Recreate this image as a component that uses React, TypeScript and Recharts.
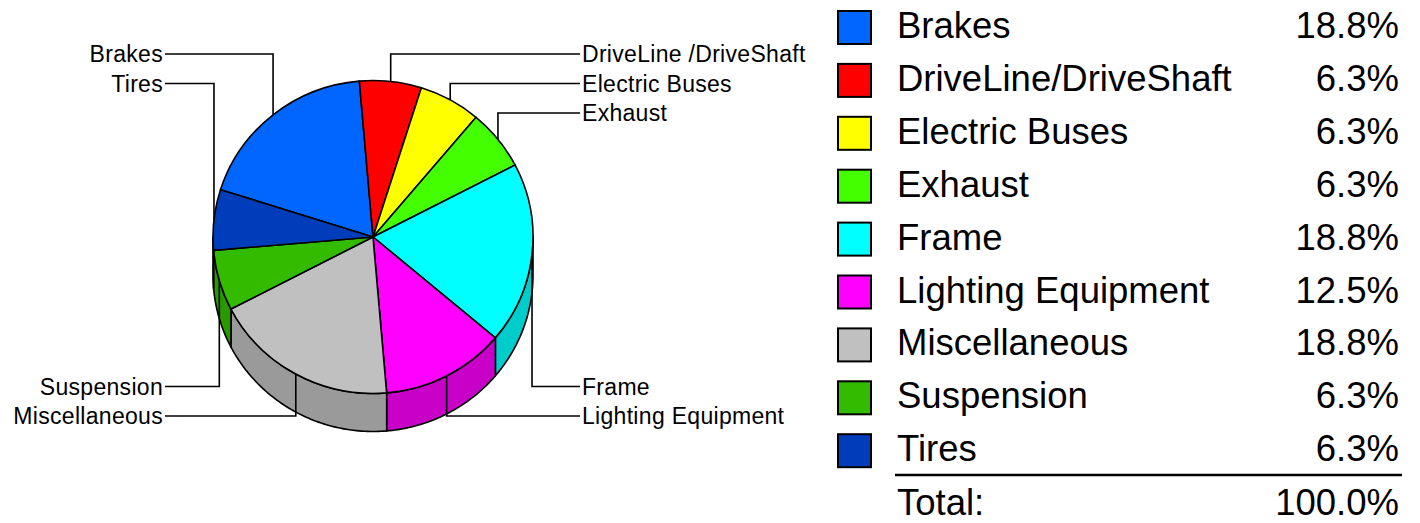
import { PieChart, Pie, Legend } from "recharts";

const categories = [
  "Brakes",
  "DriveLine/DriveShaft",
  "Electric Buses",
  "Exhaust",
  "Frame",
  "Lighting Equipment",
  "Miscellaneous",
  "Suspension",
  "Tires",
];
const calloutNames = [
  "Brakes",
  "DriveLine /DriveShaft",
  "Electric Buses",
  "Exhaust",
  "Frame",
  "Lighting Equipment",
  "Miscellaneous",
  "Suspension",
  "Tires",
];
const counts = [3, 1, 1, 1, 3, 2, 3, 1, 1];
const topColors = [
  "#0066FF",
  "#FF0000",
  "#FFFF00",
  "#44FF00",
  "#00FFFF",
  "#FF00FF",
  "#C0C0C0",
  "#33BB00",
  "#003DBB",
];
const sideColors = [
  "#0052CC",
  "#CC0000",
  "#CCCC00",
  "#36CC00",
  "#00CCCC",
  "#C800C8",
  "#9A9A9A",
  "#299900",
  "#003199",
];

const FONT = "'Liberation Sans', Arial, sans-serif";
const CX = 373;
const CY = 237;
const R = 160;
const SQUASH = 0.978;
const DEPTH = 38;
const START = 162.4;
const RAD = Math.PI / 180;

const total = counts.reduce((a, b) => a + b, 0);
const data = categories.map((name, i) => ({
  name,
  value: counts[i],
  fill: topColors[i],
  side: sideColors[i],
}));

// which callout row each slice goes to (stacked at top / bottom on each side)
const mids: number[] = [];
{
  let acc = START;
  counts.forEach((c) => {
    const span = (c / total) * 360;
    mids.push(acc - span / 2);
    acc -= span;
  });
}
const rowOf: number[] = mids.map((m, i) => {
  const left = Math.cos(m * RAD) < 0;
  const top = Math.sin(m * RAD) > 0;
  const y = -Math.sin(m * RAD);
  let rank = 0;
  mids.forEach((o, j) => {
    if (j === i) return;
    if ((Math.cos(o * RAD) < 0) !== left || (Math.sin(o * RAD) > 0) !== top) return;
    const oy = -Math.sin(o * RAD);
    if (top ? oy < y : oy > y) rank++;
  });
  return rank;
});

function Slice3D(props: any) {
  const { cx, cy, outerRadius, startAngle, endAngle, index } = props;
  const rx = outerRadius;
  const ry = outerRadius * SQUASH;
  const pt = (a: number, dy = 0) =>
    `${cx + rx * Math.cos(a * RAD)},${cy - ry * Math.sin(a * RAD) + dy}`;
  const lo = Math.min(startAngle, endAngle);
  const hi = Math.max(startAngle, endAngle);

  const walls: string[] = [];
  for (let k = -2; k <= 1; k++) {
    const a = Math.max(lo, 180 + 360 * k);
    const b = Math.min(hi, 360 + 360 * k);
    if (b - a <= 0.01) continue;
    const n = Math.max(2, Math.ceil(b - a));
    const topPts: string[] = [];
    const botPts: string[] = [];
    for (let s = 0; s <= n; s++) {
      const t = a + ((b - a) * s) / n;
      topPts.push(pt(t));
      botPts.unshift(pt(t, DEPTH));
    }
    walls.push(`M${topPts.join(" L")} L${botPts.join(" L")} Z`);
  }

  const large = hi - lo > 180 ? 1 : 0;
  const sweep = startAngle > endAngle ? 1 : 0;
  const topPath = `M${cx},${cy} L${pt(startAngle)} A${rx},${ry} 0 ${large} ${sweep} ${pt(
    endAngle
  )} Z`;

  return (
    <g>
      {walls.map((d, i) => (
        <path key={i} d={d} fill={sideColors[index]} stroke="#000" strokeWidth={1.6} strokeLinejoin="round" />
      ))}
      <path d={topPath} fill={topColors[index]} stroke="#000" strokeWidth={1.6} strokeLinejoin="round" />
    </g>
  );
}

function Callout(props: any) {
  const { cx, cy, midAngle, outerRadius, index } = props;
  const rx = outerRadius;
  const ry = outerRadius * SQUASH;
  const px = cx + rx * Math.cos(midAngle * RAD);
  const py = cy - ry * Math.sin(midAngle * RAD);
  const left = Math.cos(midAngle * RAD) < 0;
  const top = Math.sin(midAngle * RAD) > 0;
  const rank = rowOf[index];
  const ly = top ? 54 + rank * 29.5 : 416 - rank * 29.5;
  const lx = left ? 165 : 580;
  return (
    <g>
      <path d={`M${px},${py} L${px},${ly} L${lx},${ly}`} fill="none" stroke="#000" strokeWidth={1.6} />
      <text
        x={left ? 163 : 582}
        y={ly + 8}
        textAnchor={left ? "end" : "start"}
        fontSize={23}
        letterSpacing={0.3}
        fontFamily={FONT}
        fill="#000"
      >
        {calloutNames[index]}
      </text>
    </g>
  );
}

function LegendTable() {
  const rowH = 52.9;
  return (
    <svg width={590} height={523} style={{ display: "block" }}>
      {categories.map((name, i) => (
        <g key={name}>
          <rect x={8} y={11 + rowH * i} width={33} height={33} fill={topColors[i]} stroke="#000" strokeWidth={2} />
          <text x={67} y={38 + rowH * i} fontSize={36.5} fontFamily={FONT} fill="#000">
            {name}
          </text>
          <text x={569} y={38 + rowH * i} fontSize={36.5} fontFamily={FONT} fill="#000" textAnchor="end">
            {((counts[i] / total) * 100).toFixed(1)}%
          </text>
        </g>
      ))}
      <line x1={65} x2={572} y1={475} y2={475} stroke="#000" strokeWidth={2.5} />
      <text x={67} y={515} fontSize={36.5} fontFamily={FONT} fill="#000">
        Total:
      </text>
      <text x={569} y={515} fontSize={36.5} fontFamily={FONT} fill="#000" textAnchor="end">
        {(100).toFixed(1)}%
      </text>
    </svg>
  );
}

export default function App() {
  return (
    <div style={{ position: "absolute", left: 0, top: 0, width: 1420, height: 523, background: "#fff" }}>
      <PieChart width={1420} height={523} margin={{ top: 0, right: 0, bottom: 0, left: 0 }}>
        <Pie
          data={data}
          dataKey="value"
          nameKey="name"
          cx={CX}
          cy={CY}
          outerRadius={R}
          startAngle={START}
          endAngle={START - 360}
          stroke="#000"
          shape={Slice3D}
          label={Callout}
          labelLine={false}
          isAnimationActive={false}
        />
        <Legend
          layout="vertical"
          align="right"
          verticalAlign="top"
          wrapperStyle={{ position: "absolute", left: 830, top: 0, width: 590, height: 523 }}
          content={() => <LegendTable />}
        />
      </PieChart>
    </div>
  );
}
